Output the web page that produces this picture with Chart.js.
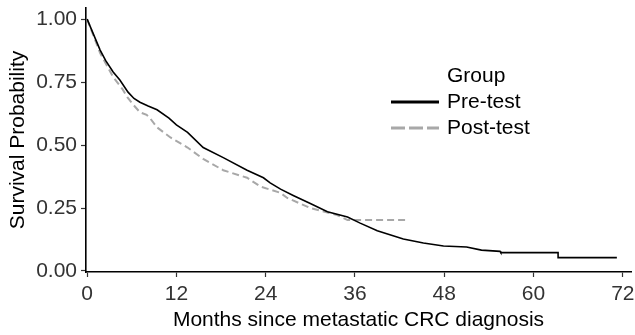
<!DOCTYPE html>
<html>
<head>
<meta charset="utf-8">
<script src="https://cdn.jsdelivr.net/npm/chart.js@4"></script>
<style>
  html, body { margin: 0; padding: 0; background: #fff; }
  #wrap { width: 635px; height: 335px; }
</style>
</head>
<body>
<div id="wrap"><canvas id="kmChart"></canvas></div>
<script>
// Kaplan-Meier estimates
const preMonths = [0, 1.75, 2.5, 3.5, 4.4, 5.5, 6.3, 7.1, 8.2, 9.4, 11.0, 12.0, 13.5, 15.6, 18.3, 21.5, 23.7, 24.6, 26.0, 27.7, 30.0, 32.3, 35.0, 36.7, 39.0, 42.5, 45.2, 47.9, 51.0, 53.0, 55.5, 55.6, 63.3, 63.3, 71.2];
const preSurv   = [1.00, 0.877, 0.835, 0.79, 0.758, 0.71, 0.685, 0.67, 0.655, 0.64, 0.607, 0.58, 0.55, 0.49, 0.45, 0.40, 0.37, 0.35, 0.325, 0.30, 0.268, 0.235, 0.214, 0.19, 0.16, 0.127, 0.111, 0.099, 0.095, 0.083, 0.078, 0.073, 0.073, 0.053, 0.053];

const postMonths = [0, 1.75, 3.5, 4.8, 5.4, 6.2, 7.1, 8.0, 8.5, 9.4, 11.2, 13.5, 15.6, 18.3, 21.5, 23.3, 26.0, 26.9, 30.0, 33.6, 35.0, 43.0];
const postSurv   = [1.00, 0.865, 0.77, 0.72, 0.69, 0.66, 0.63, 0.62, 0.605, 0.57, 0.53, 0.49, 0.445, 0.40, 0.37, 0.335, 0.31, 0.29, 0.25, 0.222, 0.202, 0.202];

const xTicks = [0, 12, 24, 36, 48, 60, 72];
const yTicks = [0, 0.25, 0.5, 0.75, 1.0];

const seriesNames = ['Pre-test', 'Post-test'];
const BLACK = '#000000';
const GREY = '#a8a8a8';
const FONT = 'Liberation Sans, Arial, Helvetica, sans-serif';
const FSIZE = 21;

function toPoints(xs, ys) {
  return xs.map((x, i) => ({ x: x, y: ys[i] }));
}

function noPad(s) {
  s.paddingTop = 0;
  s.paddingBottom = 0;
  s.paddingLeft = 0;
  s.paddingRight = 0;
}

// ggplot-style legend drawn inside the panel
const groupLegend = {
  id: 'groupLegend',
  afterDatasetsDraw(chart) {
    const ctx = chart.ctx;
    ctx.save();
    ctx.font = FSIZE + 'px ' + FONT;
    ctx.fillStyle = BLACK;
    ctx.textBaseline = 'middle';
    ctx.textAlign = 'left';
    ctx.fillText('Group', 447, 76);
    const rows = [
      { label: seriesNames[0], color: BLACK, dash: [], y: 102 },
      { label: seriesNames[1], color: GREY, dash: [14, 4], y: 128 }
    ];
    rows.forEach(r => {
      ctx.beginPath();
      ctx.setLineDash(r.dash);
      ctx.strokeStyle = r.color;
      ctx.lineWidth = 3;
      ctx.moveTo(391, r.y);
      ctx.lineTo(439, r.y);
      ctx.stroke();
      ctx.setLineDash([]);
      ctx.fillText(r.label, 447, r.y);
    });
    ctx.restore();
  }
};

Chart.defaults.font.family = FONT;
Chart.defaults.font.size = FSIZE;

const ctx = document.getElementById('kmChart').getContext('2d');
new Chart(ctx, {
  type: 'scatter',
  data: {
    datasets: [{
      label: seriesNames[0],
      data: toPoints(preMonths, preSurv),
      showLine: true,
      borderColor: BLACK,
      borderWidth: 1.6,
      pointRadius: 0,
      tension: 0
    }, {
      label: seriesNames[1],
      data: toPoints(postMonths, postSurv),
      showLine: true,
      borderColor: GREY,
      borderWidth: 2,
      borderDash: [7, 4],
      pointRadius: 0,
      tension: 0
    }]
  },
  options: {
    responsive: true,
    maintainAspectRatio: false,
    animation: false,
    layout: { padding: { top: 8, right: 4, left: 0, bottom: 0 } },
    plugins: {
      legend: { display: false },
      tooltip: { enabled: false }
    },
    scales: {
      x: {
        type: 'linear',
        min: -0.15,
        max: 73.1,
        afterBuildTicks: (s) => { s.ticks = xTicks.map(v => ({ value: v })); },
        afterFit: (s) => { s.height = 63; noPad(s); },
        ticks: { color: '#333333', padding: 5, font: { size: FSIZE } },
        grid: { drawOnChartArea: false, tickLength: 5, tickColor: '#333333', tickWidth: 1.2 },
        border: { color: BLACK, width: 1.6 },
        title: { display: true, text: 'Months since metastatic CRC diagnosis', color: '#000', font: { size: FSIZE }, padding: { top: 0, bottom: 2.4 } }
      },
      y: {
        min: -0.004,
        max: 1.044,
        afterBuildTicks: (s) => { s.ticks = yTicks.map(v => ({ value: v })); },
        afterFit: (s) => { s.width = 86; noPad(s); },
        ticks: { color: '#333333', padding: 4, font: { size: FSIZE }, callback: (v) => v.toFixed(2) },
        grid: { drawOnChartArea: false, tickLength: 5, tickColor: '#333333', tickWidth: 1.2 },
        border: { color: BLACK, width: 1.6 },
        title: { display: true, text: 'Survival Probability', color: '#000', font: { size: FSIZE }, padding: { top: 6, bottom: 0 } }
      }
    }
  },
  plugins: [groupLegend]
});
</script>
</body>
</html>
